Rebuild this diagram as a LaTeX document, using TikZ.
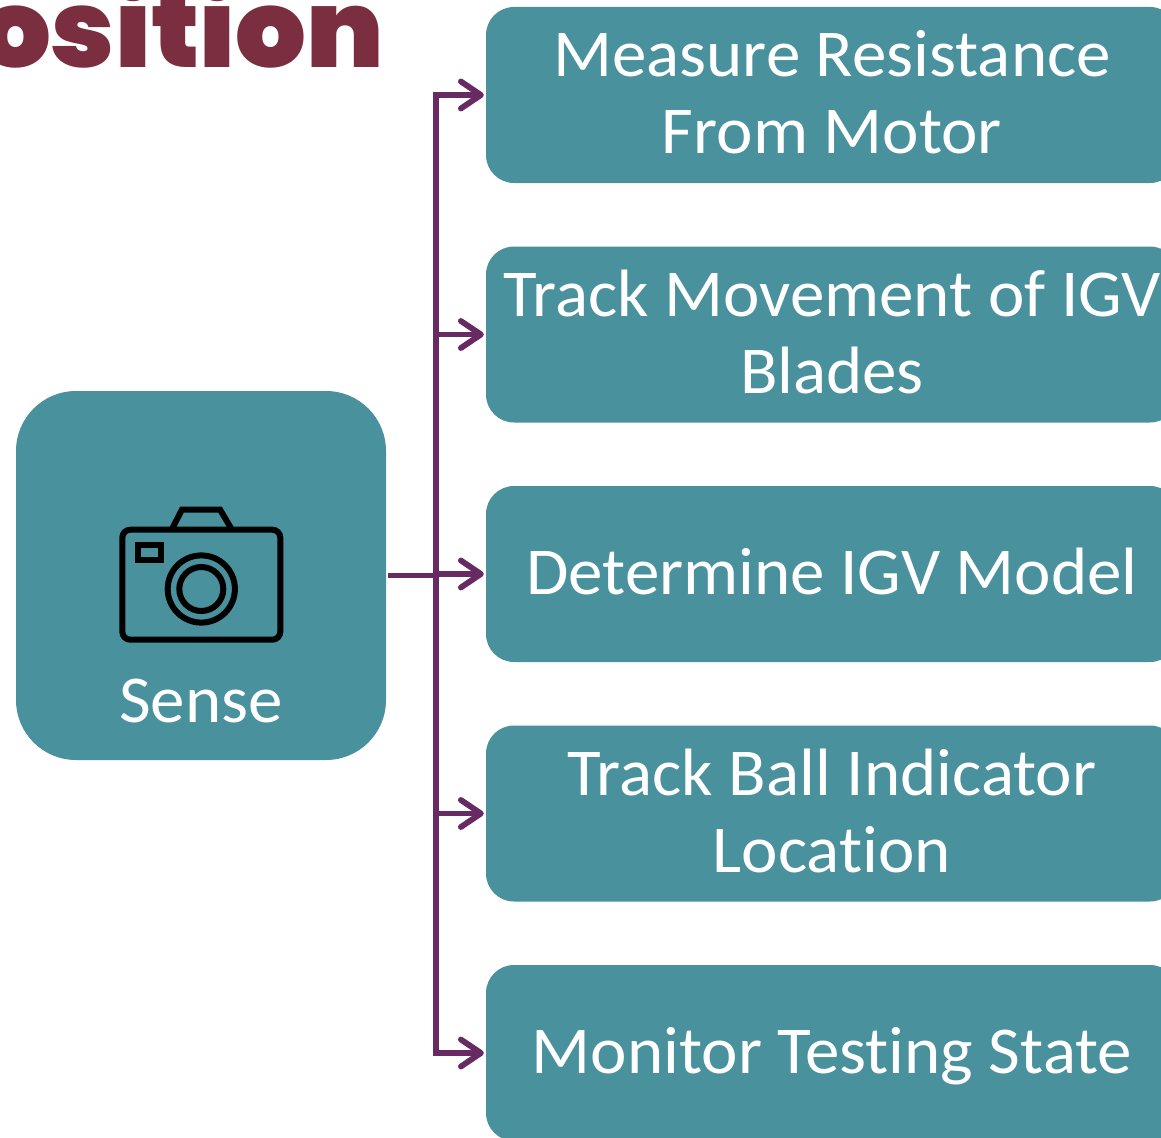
\documentclass[tikz,border=0pt]{standalone}
\usepackage{fontspec}
\setmainfont[RawFeature={-liga;-clig},FakeStretch=1.03]{Carlito}
\newfontfamily\titlefont[FakeStretch=1.03]{Poppins Black}
\usetikzlibrary{arrows.meta}
\definecolor{tealbox}{HTML}{4A919E}
\definecolor{plumline}{HTML}{672A62}
\definecolor{titlered}{HTML}{7A2E40}
\newcommand\linetop{\rule{0pt}{55pt}}
\newcommand\linebot{\rule[-15pt]{0pt}{15pt}}
\tikzset{
  stepbox/.style={fill=tealbox,text=white,rounded corners=28pt,minimum width=692pt,minimum height=176pt,inner sep=0pt,align=center,font=\fontsize{67}{77}\selectfont},
  sensebox/.style={fill=tealbox,rounded corners=60pt,minimum width=370pt,minimum height=369pt,inner sep=0pt},
  conn/.style={draw=plumline,line width=5.8pt},
  connarrow/.style={conn,-{Straight Barb[length=20pt,width=27pt,line width=5.8pt,round]},shorten >=2pt},
  cam/.style={draw=black,line width=6pt,line join=miter},
}
\begin{document}
\begin{tikzpicture}[x=1pt,y=-1pt]
\useasboundingbox (0,0) rectangle (1161,1137);
\clip (0,0) rectangle (1161,1137);
\node[anchor=base east,text=titlered,inner sep=0pt,font=\titlefont\fontsize{108}{108}\selectfont] (title) at (384,68) {osition};
\node[sensebox] (sense) at (201,575.5) {};
\node[stepbox] (b1) at (832,95) {\linetop Measure Resistance\\From Motor\linebot};
\node[stepbox] (b2) at (832,334.5) {\linetop Track Movement of IGV\\Blades\linebot};
\node[stepbox] (b3) at (832,574) {\linetop Determine IGV Model\linebot};
\node[stepbox] (b4) at (832,813.5) {\linetop Track Ball Indicator\\Location\linebot};
\node[stepbox] (b5) at (832,1053) {\linetop Monitor Testing State\linebot};
\node[text=white,inner sep=0pt,font=\fontsize{67}{77}\selectfont] (senselabel) at (201,701) {Sense};
\coordinate (j3) at (436,575.5);
\draw[conn,shorten <=2pt] (sense.east) -- (j3);
\draw[connarrow] (j3 |- b3.west) -- (b3.west);
\draw[connarrow] (j3) |- (b1.west);
\draw[connarrow] (j3 |- b2.west) -- (b2.west);
\draw[connarrow] (j3) |- (b5.west);
\draw[connarrow] (j3 |- b4.west) -- (b4.west);
% camera icon
\draw[cam,rounded corners=8pt] (122.3,529.7) rectangle (280.3,639.7);
\draw[cam] (172,529) -- (182,509.5) -- (220,509.5) -- (231.5,529);
\draw[cam] (137.8,545) rectangle (160.6,559.6);
\draw[cam] (201.3,589) circle (33.6);
\draw[cam] (201.3,589) circle (22);
\end{tikzpicture}
\end{document}
